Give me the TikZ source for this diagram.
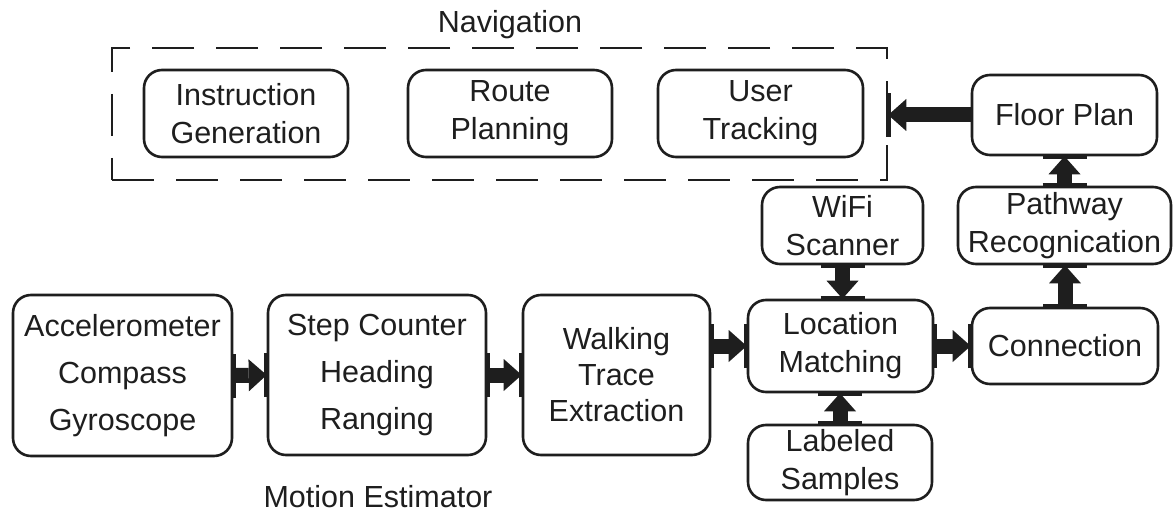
\documentclass[tikz,border=0pt]{standalone}
\usepackage{fontspec}
\setmainfont{Liberation Sans}
\usetikzlibrary{arrows.meta}
\definecolor{ink}{RGB}{30,30,30}
\begin{document}
\begin{tikzpicture}[x=1pt,y=-1pt,
  box/.style={draw=ink, text=ink, rounded corners=18pt, line width=2.6pt,
    align=center, inner sep=0pt, font=\fontsize{30.5}{38}\selectfont},
  tallbox/.style={box, font=\fontsize{30.5}{47}\selectfont},
  flow/.style={draw=ink, line width=15pt,
    -{Triangle[length=18pt,width=32pt,line width=0pt]}},
  port/.style={draw=ink, line width=4.5pt},
  caption/.style={text=ink, font=\fontsize{30.5}{36}\selectfont}]
\useasboundingbox (0,0) rectangle (1173,513);
\fill[white] (0,0) rectangle (1173,513);

% navigation group
\node[draw=ink, line width=2.5pt, dash pattern=on 42pt off 22pt,
  minimum width=775pt, minimum height=132pt, inner sep=0pt] (nav) at (499.5,114) {};
\node[caption] (navlbl) at (510,25) {Navigation};
\node[box, minimum width=204pt, minimum height=87pt] (instr) at (246,113.5) {Instruction\\Generation};
\node[box, minimum width=204pt, minimum height=87pt] (route) at (510,113.5) {Route\\Planning};
\node[box, minimum width=205pt, minimum height=87pt] (user) at (760.5,113.5) {User\\Tracking};

% map construction chain
\node[box, minimum width=185pt, minimum height=80pt] (floor) at (1064.5,115) {Floor Plan};
\node[box, minimum width=213pt, minimum height=77pt] (path) at (1064.5,225.5) {Pathway\\Recognication};
\node[box, minimum width=161pt, minimum height=77pt] (wifi) at (842.5,225.5) {WiFi\\Scanner};
\node[box, minimum width=185pt, minimum height=92pt] (loc) at (840.5,346) {Location\\Matching};
\node[box, minimum width=186pt, minimum height=76pt] (conn) at (1065,346) {Connection};
\node[box, minimum width=184pt, minimum height=75pt] (lab) at (840,462.5) {Labeled\\Samples};

% motion estimator
\node[tallbox, minimum width=219pt, minimum height=161pt] (acc) at (122.5,375.5) {Accelerometer\\Compass\\Gyroscope};
\node[tallbox, minimum width=218pt, minimum height=160pt] (step) at (377,375) {Step Counter\\Heading\\Ranging};
\node[box, font=\fontsize{30.5}{36}\selectfont, minimum width=187pt, minimum height=160pt] (walk) at (616.5,375) {Walking\\Trace\\Extraction};
\node[caption] (motlbl) at (378,497) {Motion Estimator};

% connectors
\draw[flow] (acc.east) -- (step.west);
\draw[flow] (step.east) -- (walk.west);
\draw[flow] (walk.east |- loc.west) -- (loc.west);
\draw[flow] (loc.east) -- (conn.west);
\draw[flow] (wifi.south) -- (wifi.south |- loc.north);
\draw[flow] (lab.north) -- (lab.north |- loc.south);
\draw[flow] (conn.north) -- (conn.north |- path.south);
\draw[flow] (path.north) -- (path.north |- floor.south);
\draw[flow] (floor.west) -- (floor.west -| nav.east);

% connection points on the box borders
\draw[port] ([yshift=-22pt]acc.east) -- ([yshift=22pt]acc.east);
\draw[port] ([yshift=-22pt]step.west) -- ([yshift=22pt]step.west);
\draw[port] ([yshift=-22pt]step.east) -- ([yshift=22pt]step.east);
\draw[port] ([yshift=-22pt]walk.west) -- ([yshift=22pt]walk.west);
\draw[port] ([yshift=-22pt]walk.east |- loc.west) -- ([yshift=22pt]walk.east |- loc.west);
\draw[port] ([yshift=-22pt]loc.west) -- ([yshift=22pt]loc.west);
\draw[port] ([yshift=-22pt]loc.east) -- ([yshift=22pt]loc.east);
\draw[port] ([yshift=-22pt]conn.west) -- ([yshift=22pt]conn.west);
\draw[port] ([xshift=-22pt]wifi.south) -- ([xshift=22pt]wifi.south);
\draw[port] ([xshift=-22pt]wifi.south |- loc.north) -- ([xshift=22pt]wifi.south |- loc.north);
\draw[port] ([xshift=-22pt]lab.north) -- ([xshift=22pt]lab.north);
\draw[port] ([xshift=-22pt]lab.north |- loc.south) -- ([xshift=22pt]lab.north |- loc.south);
\draw[port] ([xshift=-22pt]conn.north) -- ([xshift=22pt]conn.north);
\draw[port] ([xshift=-22pt]conn.north |- path.south) -- ([xshift=22pt]conn.north |- path.south);
\draw[port] ([xshift=-22pt]path.north) -- ([xshift=22pt]path.north);
\draw[port] ([xshift=-22pt]path.north |- floor.south) -- ([xshift=22pt]path.north |- floor.south);
\draw[port] ([yshift=-22pt]floor.west -| nav.east) -- ([yshift=22pt]floor.west -| nav.east);
\end{tikzpicture}
\end{document}
